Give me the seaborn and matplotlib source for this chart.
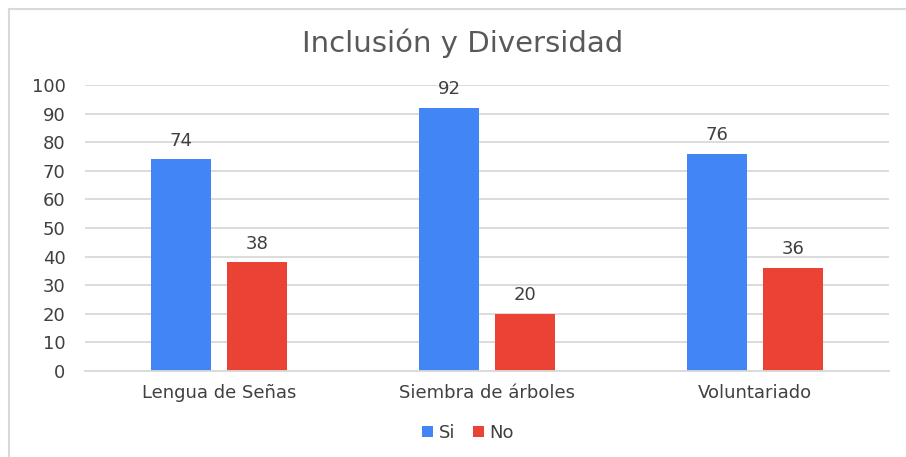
import matplotlib
matplotlib.use("Agg")
import matplotlib.pyplot as plt
from matplotlib.lines import Line2D
from matplotlib.patches import Patch
import seaborn as sns
import pandas as pd

categories = ["Lengua de Señas", "Siembra de árboles", "Voluntariado"]
si_values = [74, 92, 76]
no_values = [38, 20, 36]
series_names = ["Si", "No"]
y_ticks = [0, 10, 20, 30, 40, 50, 60, 70, 80, 90, 100]

df = pd.DataFrame({
    "Actividad": categories * 2,
    "Respuesta": [series_names[0]] * 3 + [series_names[1]] * 3,
    "Valor": si_values + no_values,
})

sns.set_theme(style="white")
plt.rcParams["font.family"] = ["DejaVu Sans"]

text_color = "#595959"
label_color = "#404040"
grid_color = "#d9d9d9"
palette = {"Si": "#4285F4", "No": "#EA4335"}

fig = plt.figure(figsize=(9.06, 4.57), dpi=100)
ax = fig.add_axes([85 / 906, 1 - 371 / 457, 804 / 906, 286 / 457])

sns.barplot(data=df, x="Actividad", y="Valor", hue="Respuesta",
            palette=palette, width=0.567, gap=0.21, saturation=1,
            linewidth=0, edgecolor="none",
            ax=ax, legend=False, errorbar=None)

for container in ax.containers:
    ax.bar_label(container, fmt="%d", padding=7, fontsize=13, color=label_color)

ax.set_ylim(0, 100)
ax.set_xlim(-0.5, 2.5)
ax.set_yticks(y_ticks)
ax.yaxis.grid(True, color=grid_color, linewidth=1.3)
ax.set_axisbelow(True)
for side in ["top", "right", "left"]:
    ax.spines[side].set_visible(False)
ax.spines["bottom"].set_color(grid_color)
ax.spines["bottom"].set_linewidth(1.3)
ax.tick_params(axis="y", length=0, pad=14, labelsize=13, labelcolor=label_color)
ax.tick_params(axis="x", length=0, pad=9, labelsize=13, labelcolor=label_color)
ax.set_xlabel("")
ax.set_ylabel("")

fig.text(463 / 906, 1 - 43 / 457, "Inclusión y Diversidad", ha="center", va="center",
         fontsize=21, color=text_color)

handles = [Patch(facecolor=palette[s], edgecolor="none") for s in series_names]
fig.legend(handles, series_names, loc="center", bbox_to_anchor=(468 / 906, 1 - 433 / 457),
           ncol=2, frameon=False, fontsize=13, handlelength=0.6, handleheight=0.6,
           handletextpad=0.3, columnspacing=1.0, labelcolor=label_color)

# chart frame edges
fig.add_artist(Line2D([9 / 906, 1], [1 - 9 / 457, 1 - 9 / 457], color=grid_color, linewidth=1.5))
fig.add_artist(Line2D([9 / 906, 9 / 906], [0, 1 - 9 / 457], color=grid_color, linewidth=1.5))

fig.savefig("out.png", dpi=100)
